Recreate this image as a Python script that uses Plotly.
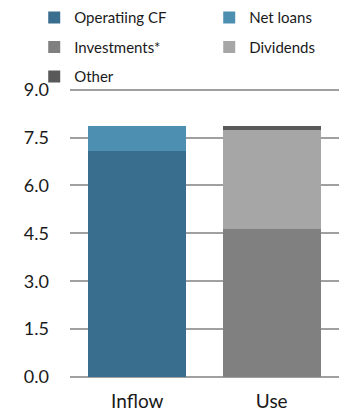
import plotly.graph_objects as go

# Sources and uses of cash (bn)
categories = ["Inflow", "Use"]
operating_cf = [7.08, 0]
net_loans = [0.79, 0]
investments = [0, 4.63]
dividends = [0, 3.11]
other = [0, 0.13]

# name, values, colour, legend column
series = [
    ("Operatiing CF", operating_cf, "#3A6E8F", "legend"),
    ("Net loans", net_loans, "#4D8FB0", "legend2"),
    ("Investments*", investments, "#808080", "legend"),
    ("Dividends", dividends, "#A6A6A6", "legend2"),
    ("Other", other, "#595959", "legend"),
]

tick_vals = [0.0, 1.5, 3.0, 4.5, 6.0, 7.5, 9.0]
tick_text = ["0.0", "1.5", "3.0", "4.5", "6.0", "7.5", "9.0"]

FONT = "Lato"
TEXT = "#1a1a1a"

fig = go.Figure()
for name, vals, color, leg in series:
    fig.add_trace(go.Bar(
        x=categories, y=vals, name=name,
        legend=leg, legendgroup=name,
        marker=dict(color=color, line=dict(width=0)),
    ))

legend_common = dict(
    orientation="v",
    yanchor="top",
    xanchor="left",
    traceorder="grouped",
    tracegroupgap=7,
    font=dict(family=FONT, size=15, color=TEXT),
    bgcolor="rgba(0,0,0,0)",
    borderwidth=0,
)

LEG_X = -0.133
LEG_Y = 1.30

fig.update_layout(
    width=339, height=411,
    barmode="stack",
    bargap=0.27,
    plot_bgcolor="white",
    paper_bgcolor="white",
    margin=dict(l=70, r=0, t=88.4, b=34, autoexpand=False),
    font=dict(family=FONT, size=18, color=TEXT),
    showlegend=True,
    legend=dict(x=LEG_X, y=LEG_Y, **legend_common),
    legend2=dict(x=LEG_X + 175 / 269, y=LEG_Y, **legend_common),
    xaxis=dict(
        showgrid=False, showline=False, ticks="",
        ticklabelstandoff=11,
        tickfont=dict(family=FONT, size=19, color=TEXT),
    ),
    yaxis=dict(
        range=[0, 9.05],
        tickvals=tick_vals, ticktext=tick_text,
        showgrid=True, gridcolor="#A0A0A0", gridwidth=1.5,
        zeroline=True, zerolinecolor="#A0A0A0", zerolinewidth=1.5,
        showline=False, ticks="",
        ticklabelstandoff=20,
        tickfont=dict(family=FONT, size=18, color=TEXT),
    ),
)

fig.write_html("out.html")
